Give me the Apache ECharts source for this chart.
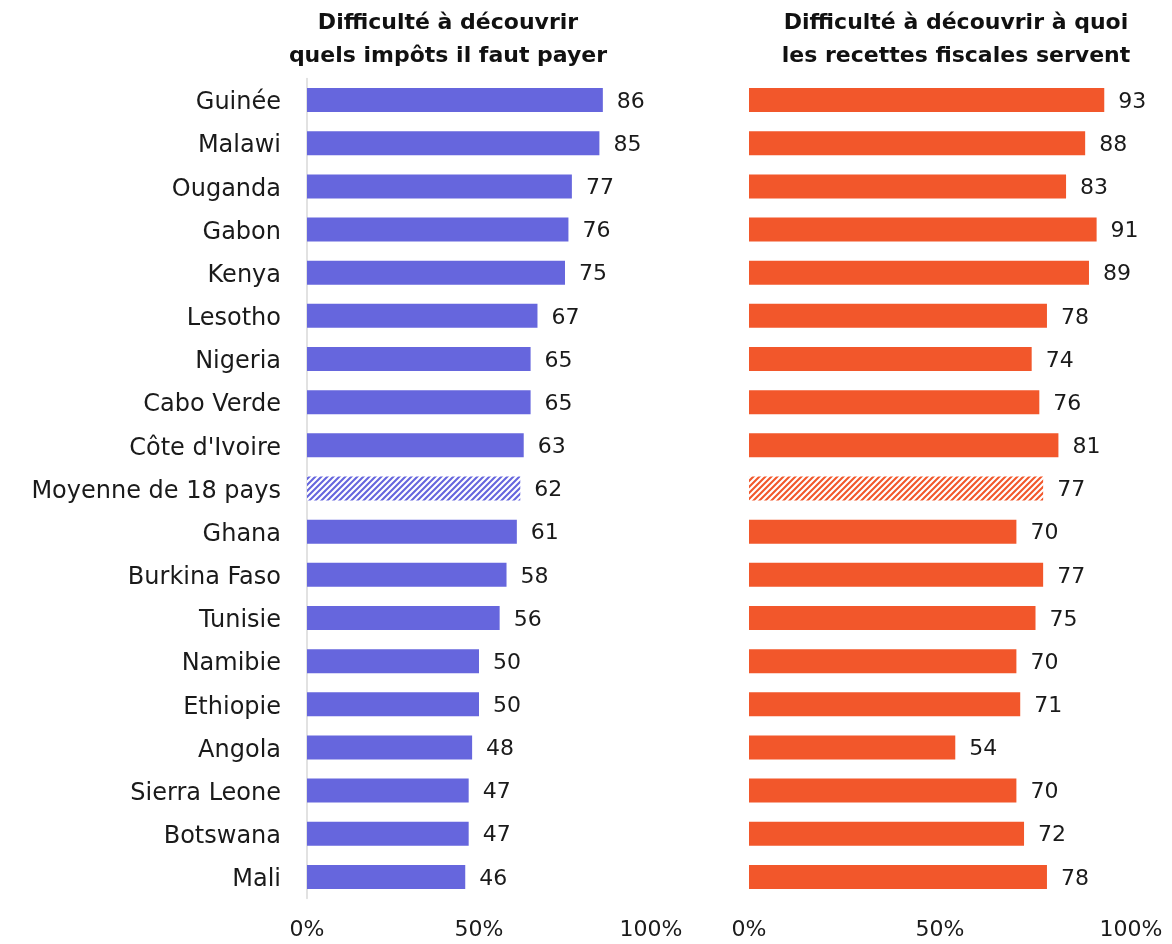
<!DOCTYPE html>
<html>
<head>
<meta charset="utf-8">
<script src="https://cdn.jsdelivr.net/npm/echarts@6/dist/echarts.min.js"></script>
<style>
  html, body { margin: 0; padding: 0; background: #fff; }
  #chart { width: 1172px; height: 944px; }
</style>
</head>
<body>
<div id="chart"></div>
<script>
const countries = ['Guinée', 'Malawi', 'Ouganda', 'Gabon', 'Kenya', 'Lesotho', 'Nigeria', 'Cabo Verde',
  "Côte d'Ivoire", 'Moyenne de 18 pays', 'Ghana', 'Burkina Faso', 'Tunisie', 'Namibie', 'Ethiopie',
  'Angola', 'Sierra Leone', 'Botswana', 'Mali'];
const impotsValues = [86, 85, 77, 76, 75, 67, 65, 65, 63, 62, 61, 58, 56, 50, 50, 48, 47, 47, 46];
const recettesValues = [93, 88, 83, 91, 89, 78, 74, 76, 81, 77, 70, 77, 75, 70, 71, 54, 70, 72, 78];
const axisTicks = [0, 50, 100];
const averageLabel = 'Moyenne de 18 pays';

const titles = ['Difficulté à découvrir\nquels impôts il faut payer',
  'Difficulté à découvrir à quoi\nles recettes fiscales servent'];

const BLUE = '#6666dd';
const ORANGE = '#f2572b';
const FONT = '"DejaVu Sans"';
const TEXT = '#1a1a1a';

// diagonal stripe fill used for the average row
function hatch(color) {
  const c = document.createElement('canvas');
  c.width = 6; c.height = 6;
  const g = c.getContext('2d');
  g.fillStyle = '#ffffff';
  g.fillRect(0, 0, 6, 6);
  g.strokeStyle = color;
  g.lineWidth = 2.1;
  g.beginPath();
  g.moveTo(-1, 7); g.lineTo(7, -1);
  g.moveTo(-4, 4); g.lineTo(4, -4);
  g.moveTo(2, 10); g.lineTo(10, 2);
  g.stroke();
  return { image: c, repeat: 'repeat' };
}

function barData(values, color) {
  return values.map((v, i) => ({
    value: v,
    itemStyle: { color: countries[i] === averageLabel ? hatch(color) : color }
  }));
}

const chart = echarts.init(document.getElementById('chart'), null, { renderer: 'canvas' });

const grids = [
  { left: 307, width: 344, top: 78.5, bottom: 45.5 },
  { left: 749, width: 382, top: 78.5, bottom: 45.5 }
];

function xAxis(idx) {
  return {
    gridIndex: idx, type: 'value', min: 0, max: 100, interval: 50,
    axisLine: { show: false }, axisTick: { show: false }, splitLine: { show: false },
    axisLabel: { formatter: '{value}%', color: TEXT, fontSize: 22, fontFamily: FONT, margin: 21,
      customValues: axisTicks }
  };
}

function yAxis(idx) {
  return {
    gridIndex: idx, type: 'category', data: countries, inverse: true,
    axisLine: { show: idx === 0, lineStyle: { color: '#d9d9d9', width: 1.5 } },
    axisTick: { show: false },
    axisLabel: { show: idx === 0, color: TEXT, fontSize: 24, fontFamily: FONT, margin: 26,
      verticalAlign: 'top', lineHeight: 6 }
  };
}

function series(idx, values, color) {
  return {
    type: 'bar', xAxisIndex: idx, yAxisIndex: idx, barWidth: 24,
    data: barData(values, color),
    label: { show: true, position: 'right', distance: 14, color: TEXT, fontSize: 22, fontFamily: FONT,
      offset: [0, 2] },
    silent: true, animation: false
  };
}

chart.setOption({
  animation: false,
  title: [
    { text: titles[0], left: 443, textAlign: 'center', top: 2,
      textStyle: { fontSize: 22, fontWeight: 'bold', fontFamily: FONT, color: '#111', lineHeight: 33 } },
    { text: titles[1], left: 951, textAlign: 'center', top: 2,
      textStyle: { fontSize: 22, fontWeight: 'bold', fontFamily: FONT, color: '#111', lineHeight: 33 } }
  ],
  grid: grids,
  xAxis: [xAxis(0), xAxis(1)],
  yAxis: [yAxis(0), yAxis(1)],
  series: [series(0, impotsValues, BLUE), series(1, recettesValues, ORANGE)]
});
</script>
</body>
</html>
